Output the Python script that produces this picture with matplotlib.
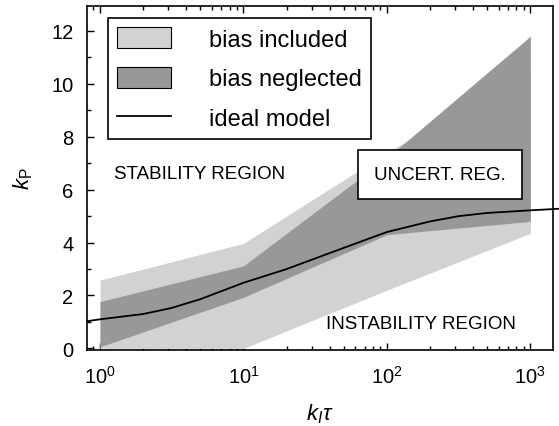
import numpy as np
import matplotlib
matplotlib.use('Agg')
from matplotlib import pyplot as plt
from matplotlib.patches import Patch
from matplotlib.lines import Line2D
from matplotlib.ticker import MultipleLocator, LogLocator, NullFormatter

plt.rcParams['font.family'] = ['Liberation Sans', 'DejaVu Sans']
plt.rcParams['mathtext.fontset'] = 'custom'
plt.rcParams['mathtext.rm'] = 'Liberation Sans'
plt.rcParams['mathtext.it'] = 'Liberation Sans:italic'

# band edges (k_I*tau -> k_P)
x_band = [1, 10, 100, 1000]
incl_lo = [0.0, 0.0, 2.2, 4.35]
incl_hi = [2.58, 3.97, 7.4, 10.5]
negl_lo = [0.06, 1.93, 4.3, 4.8]
negl_hi = [1.77, 3.12, 7.2, 11.8]

# ideal model curve
x_ideal = [0.818, 1, 2, 3.16, 5, 10, 20, 31.6, 50, 100, 200, 316, 500, 1000, 1600]
y_ideal = [1.03, 1.1, 1.3, 1.53, 1.86, 2.48, 3.0, 3.4, 3.8, 4.4, 4.8, 5.0, 5.12, 5.22, 5.28]

light = '#d2d2d2'
dark = '#989898'

fig = plt.figure(figsize=(5.59, 4.27), dpi=100)
ax = fig.add_axes([0.1565, 0.178, 0.8325, 0.806])

ax.fill_between(x_band, incl_lo, incl_hi, color=light, lw=0)
ax.fill_between(x_band, negl_lo, negl_hi, color=dark, lw=0)
ax.plot(x_ideal, y_ideal, color='black', lw=1.3, clip_on=False)

ax.set_xscale('log')
ax.set_xlim(0.818, 1435)
ax.set_ylim(-0.06, 12.95)
ax.yaxis.set_major_locator(MultipleLocator(2))
ax.yaxis.set_minor_locator(MultipleLocator(1))
ax.xaxis.set_minor_locator(LogLocator(base=10, subs=np.arange(2, 10)))
ax.xaxis.set_minor_formatter(NullFormatter())
ax.set_axisbelow(True)
ax.tick_params(which='both', direction='in', top=True, right=False,
               labelsize=14.5, width=1)
ax.tick_params(which='major', length=5)
ax.tick_params(which='minor', length=3)
ax.tick_params(axis='y', pad=10)
ax.tick_params(axis='x', pad=11)
for s in ax.spines.values():
    s.set_linewidth(1.2)

ax.set_ylabel(r'$k_{\mathrm{P}}$', fontsize=16, labelpad=12)
ax.set_xlabel(r'$k_I\tau$', fontsize=16, labelpad=10)

ax.text(4.98, 6.6, 'STABILITY REGION', fontsize=13.5, ha='center', va='center')
ax.text(174, 0.94, 'INSTABILITY REGION', fontsize=13.5, ha='center', va='center')
ax.text(234, 6.57, 'UNCERT. REG.', fontsize=13.5, ha='center', va='center',
        bbox=dict(boxstyle='square,pad=0.85', fc='white', ec='black', lw=1.2))

handles = [Patch(fc=light, ec='black', lw=0.8),
           Patch(fc=dark, ec='black', lw=0.8),
           Line2D([], [], color='black', lw=1.3)]
labels = ['bias included', 'bias neglected', 'ideal model']
leg = ax.legend(handles, labels, loc='upper left', bbox_to_anchor=(0.044, 0.965),
                borderaxespad=0, fontsize=17, fancybox=False, framealpha=1,
                edgecolor='black', handlelength=2.3, handleheight=1.0,
                handletextpad=1.6, labelspacing=0.68, borderpad=0.38)
leg.get_frame().set_linewidth(1.2)

fig.savefig('out.png', dpi=100)
